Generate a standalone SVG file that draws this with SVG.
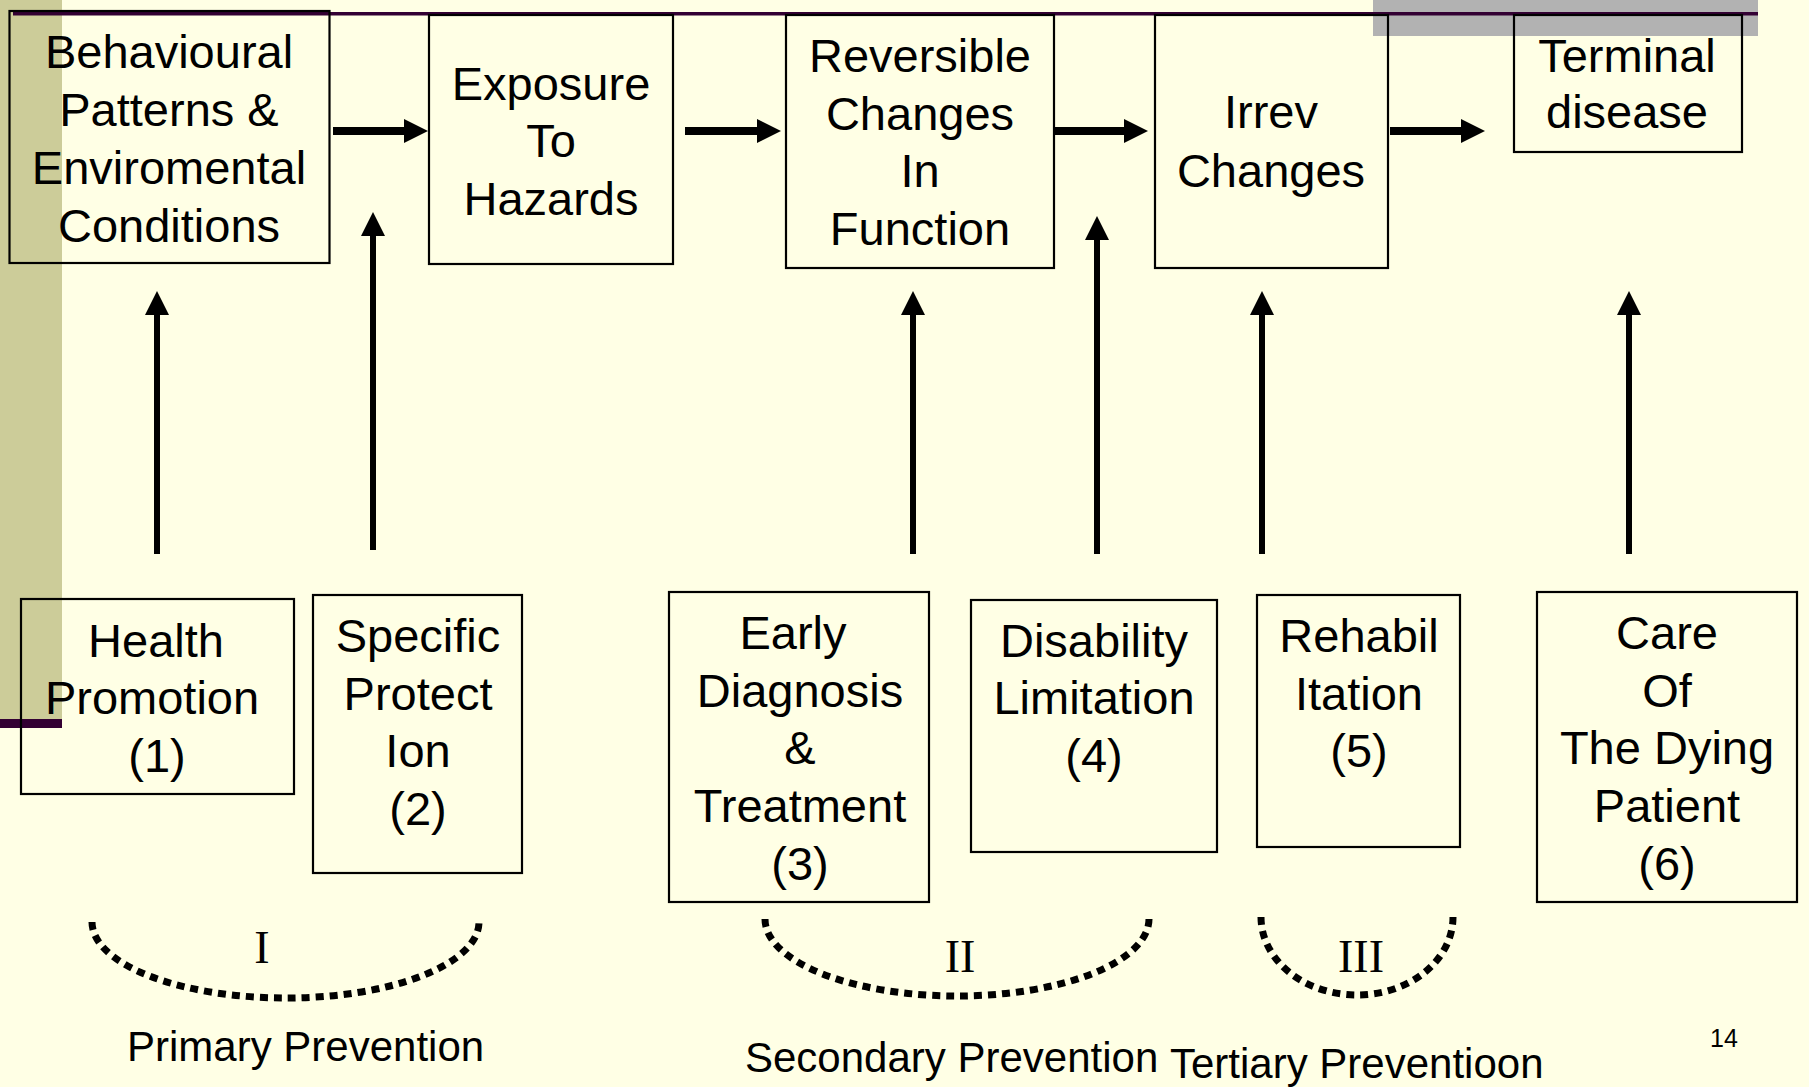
<svg xmlns="http://www.w3.org/2000/svg" width="1809" height="1087" viewBox="0 0 1809 1087">
<style>
.box{fill:none;stroke:#000;stroke-width:2.2}
.t{font-family:"Liberation Sans",Arial,sans-serif;font-size:47px;fill:#000;text-anchor:middle}
.lbl{font-family:"Liberation Sans",Arial,sans-serif;font-size:42px;fill:#000}
.rom{font-family:"Liberation Serif","Times New Roman",serif;font-size:46px;fill:#000;text-anchor:middle}
.harr{stroke:#000;stroke-width:8;fill:none}
.varr{stroke:#000;stroke-width:6;fill:none}
.dot{fill:none;stroke:#000;stroke-width:7;stroke-dasharray:8 6}
</style>
<defs>
<marker id="ah" markerUnits="userSpaceOnUse" markerWidth="24" markerHeight="24" viewBox="0 0 24 24" refX="1" refY="12" orient="auto">
<path d="M0,0 L24,12 L0,24 Z" fill="#000"/>
</marker>
</defs>
<rect x="0" y="0" width="1809" height="1087" fill="#FFFFE5"/>
<g id="decor">
<rect x="0" y="0" width="62" height="721" fill="#CCCC99"/>
<rect x="0" y="719" width="62" height="9" fill="#330033"/>
<rect x="1373" y="0" width="385" height="36" fill="#B2B2B2"/>
<rect x="13" y="12" width="1745" height="3.5" fill="#330033"/>
</g>
<g id="connectors">
<line class="harr" x1="333" y1="131" x2="405" y2="131" marker-end="url(#ah)"/>
<line class="harr" x1="685" y1="131" x2="758" y2="131" marker-end="url(#ah)"/>
<line class="harr" x1="1054" y1="131" x2="1125" y2="131" marker-end="url(#ah)"/>
<line class="harr" x1="1390" y1="131" x2="1462" y2="131" marker-end="url(#ah)"/>
<line class="varr" x1="157" y1="554" x2="157" y2="314" marker-end="url(#ah)"/>
<line class="varr" x1="373" y1="550" x2="373" y2="235" marker-end="url(#ah)"/>
<line class="varr" x1="913" y1="554" x2="913" y2="314" marker-end="url(#ah)"/>
<line class="varr" x1="1097" y1="554" x2="1097" y2="239" marker-end="url(#ah)"/>
<line class="varr" x1="1262" y1="554" x2="1262" y2="314" marker-end="url(#ah)"/>
<line class="varr" x1="1629" y1="554" x2="1629" y2="314" marker-end="url(#ah)"/>
</g>
<g id="n-behavioural">
<rect class="box" x="9.5" y="11" width="320" height="252"/>
<text class="t" x="169"><tspan x="169" y="68">Behavioural</tspan><tspan x="169" y="126">Patterns &amp;</tspan><tspan x="169" y="184">Enviromental</tspan><tspan x="169" y="242">Conditions</tspan></text>
</g>
<g id="n-exposure">
<rect class="box" x="429" y="15" width="244" height="249"/>
<text class="t"><tspan x="551" y="100">Exposure</tspan><tspan x="551" y="157">To</tspan><tspan x="551" y="215">Hazards</tspan></text>
</g>
<g id="n-reversible">
<rect class="box" x="786" y="15" width="268" height="253"/>
<text class="t"><tspan x="920" y="72">Reversible</tspan><tspan x="920" y="130">Changes</tspan><tspan x="920" y="187">In</tspan><tspan x="920" y="245">Function</tspan></text>
</g>
<g id="n-irrev">
<rect class="box" x="1155" y="15" width="233" height="253"/>
<text class="t"><tspan x="1271" y="128">Irrev</tspan><tspan x="1271" y="187">Changes</tspan></text>
</g>
<g id="n-terminal">
<rect class="box" x="1514" y="15" width="228" height="137"/>
<text class="t"><tspan x="1627" y="72">Terminal</tspan><tspan x="1627" y="128">disease</tspan></text>
</g>
<g id="n-health">
<rect class="box" x="21" y="599" width="273" height="195"/>
<text class="t"><tspan x="156" y="657">Health</tspan><tspan x="152" y="714">Promotion</tspan><tspan x="157" y="772">(1)</tspan></text>
</g>
<g id="n-specific">
<rect class="box" x="313" y="595" width="209" height="278"/>
<text class="t"><tspan x="418" y="652">Specific</tspan><tspan x="418" y="710">Protect</tspan><tspan x="418" y="767">Ion</tspan><tspan x="418" y="825">(2)</tspan></text>
</g>
<g id="n-early">
<rect class="box" x="669" y="592" width="260" height="310"/>
<text class="t"><tspan x="793" y="649">Early</tspan><tspan x="800" y="707">Diagnosis</tspan><tspan x="800" y="764">&amp;</tspan><tspan x="800" y="822">Treatment</tspan><tspan x="800" y="880">(3)</tspan></text>
</g>
<g id="n-disability">
<rect class="box" x="971" y="600" width="246" height="252"/>
<text class="t"><tspan x="1094" y="657">Disability</tspan><tspan x="1094" y="714">Limitation</tspan><tspan x="1094" y="772">(4)</tspan></text>
</g>
<g id="n-rehab">
<rect class="box" x="1257" y="595" width="203" height="252"/>
<text class="t"><tspan x="1359" y="652">Rehabil</tspan><tspan x="1359" y="710">Itation</tspan><tspan x="1359" y="767">(5)</tspan></text>
</g>
<g id="n-care">
<rect class="box" x="1537" y="592" width="260" height="310"/>
<text class="t"><tspan x="1667" y="649">Care</tspan><tspan x="1667" y="707">Of</tspan><tspan x="1667" y="764">The Dying</tspan><tspan x="1667" y="822">Patient</tspan><tspan x="1667" y="880">(6)</tspan></text>
</g>
<g id="g-primary">
<path class="dot" d="M92,922 A193.5,76 0 0 0 479,922"/>
<text class="rom" x="262" y="963">I</text>
<text class="lbl" x="127" y="1061">Primary Prevention</text>
</g>
<g id="g-secondary">
<path class="dot" d="M765,919 A192,77 0 0 0 1149,919"/>
<text class="rom" x="960" y="972">II</text>
<text class="lbl" x="745" y="1072">Secondary Prevention</text>
</g>
<g id="g-tertiary">
<path class="dot" d="M1261,917 A96,78 0 0 0 1453,917"/>
<text class="rom" x="1361" y="972">III</text>
<text class="lbl" x="1170" y="1078">Tertiary Preventioon</text>
</g>
<text x="1710" y="1047" font-family="Liberation Sans, Arial, sans-serif" font-size="25" fill="#000">14</text>
</svg>
